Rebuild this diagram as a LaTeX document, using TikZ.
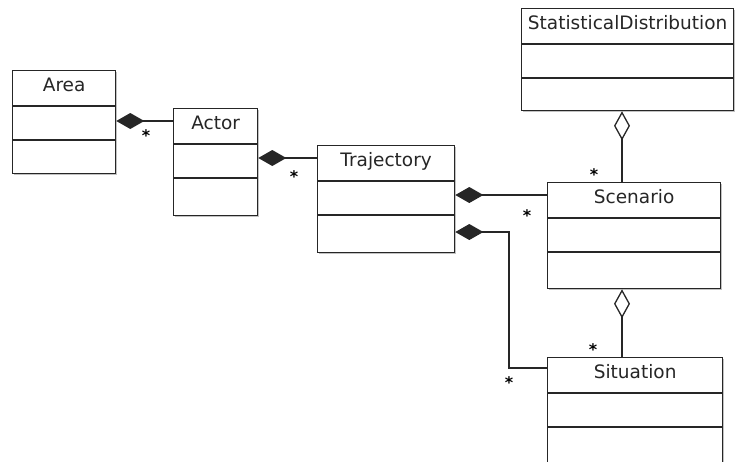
\documentclass[tikz,border=0pt]{standalone}
\usepackage{fontspec}
\setsansfont{DejaVu Sans}
\usetikzlibrary{arrows.meta,shadows}
\tikzset{
  classbox/.style={draw=black!85, line width=1.3pt, fill=white, anchor=north west, inner sep=0pt,
    drop shadow={shadow xshift=1.5pt, shadow yshift=-1.5pt, fill=black!40, opacity=0.6}},
  classname/.style={anchor=base, inner sep=0pt, text=black!85, font=\sffamily\fontsize{18.5}{21}\selectfont},
  divider/.style={draw=black!85, line width=1.3pt},
  compose/.style={draw=black!85, line width=1.3pt, -{Diamond[length=28pt,width=16pt]}},
  aggreg/.style={draw=black!85, line width=1.3pt, -{Diamond[open,length=29pt,width=16pt,fill=white]}},
  mult/.style={inner sep=0pt, text=black, font=\sffamily\bfseries\fontsize{16}{16}\selectfont}
}
\begin{document}
\begin{tikzpicture}[x=1pt,y=-1pt]
\useasboundingbox (0,0) rectangle (736,461);
\clip (0,0) rectangle (736,461);

\node[classbox, minimum width=103, minimum height=103] (area) at (12,70){};
\node[classbox, minimum width=84, minimum height=107] (actor) at (173,108){};
\node[classbox, minimum width=137, minimum height=107] (traj) at (317,145){};
\node[classbox, minimum width=212, minimum height=102] (statdist) at (521,8){};
\node[classbox, minimum width=173, minimum height=106] (scen) at (547,182){};
\node[classbox, minimum width=175, minimum height=120] (sit) at (547,357){};

\foreach \c in {area,actor,traj,statdist,scen,sit}
  \draw[divider] ([yshift=-36]\c.north west) -- ([yshift=-36]\c.north east)
                 ([yshift=-70]\c.north west) -- ([yshift=-70]\c.north east);

\node[classname] (areaname) at ([yshift=-21]area.north){Area};
\node[classname] (actorname) at ([yshift=-21]actor.north){Actor};
\node[classname] (trajname) at ([yshift=-21]traj.north){Trajectory};
\node[classname] (statdistname) at ([yshift=-21]statdist.north){StatisticalDistribution};
\node[classname] (scenname) at ([yshift=-21]scen.north){Scenario};
\node[classname] (sitname) at ([yshift=-21]sit.north){Situation};

\coordinate (bend) at (509,232);

\draw[compose](actor.west |- 0,121) -- (area.east |- 0,121);
\draw[compose](traj.west |- 0,158) -- (actor.east |- 0,158);
\draw[compose](scen.west |- 0,195) -- (traj.east |- 0,195);
\draw[compose](sit.west |- 0,368) -| (bend) -- (traj.east |- bend);
\draw[aggreg](scen.north -| 622,0) -- (statdist.south -| 622,0);
\draw[aggreg](sit.north -| 622,0) -- (scen.south -| 622,0);

\node[mult] (m1) at (146,136){*};
\node[mult] (m2) at (294,177){*};
\node[mult] (m3) at (527,216){*};
\node[mult] (m4) at (509,383){*};
\node[mult] (m5) at (594,175){*};
\node[mult] (m6) at (593,350){*};

\end{tikzpicture}
\end{document}
